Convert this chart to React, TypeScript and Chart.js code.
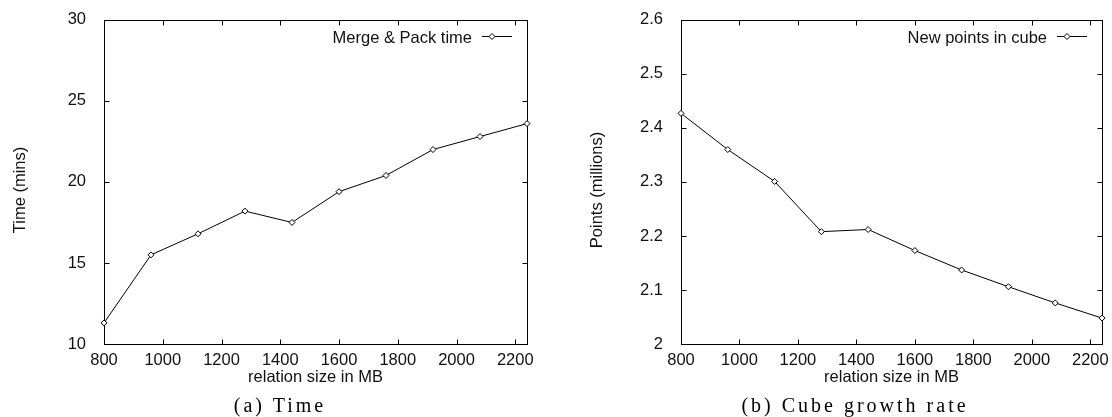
import React, { useEffect, useRef } from 'react';
import { Chart, registerables } from 'chart.js';

Chart.register(...registerables);

// ---- data ----
const relationSizes = [800, 960, 1120, 1280, 1440, 1600, 1760, 1920, 2080, 2240];
const mergePackTime = [11.3, 15.5, 16.8, 18.2, 17.5, 19.4, 20.4, 22.0, 22.8, 23.6];
const newPointsInCube = [2.427, 2.36, 2.301, 2.208, 2.212, 2.173, 2.137, 2.106, 2.076, 2.048];
const xTickValues = [800, 1000, 1200, 1400, 1600, 1800, 2000, 2200];
const timeTickValues = [10, 15, 20, 25, 30];
const pointsTickValues = [2, 2.1, 2.2, 2.3, 2.4, 2.5, 2.6];

const SANS = '"Liberation Sans", Arial, Helvetica, sans-serif';
const FONT_SIZE = 16.5;
const TEXT = '#111';

const framePlugin = {
  id: 'gnuplotFrame',
  beforeDatasetsDraw(chart: any, _args: any, opts: any) {
    const { ctx, chartArea: a, scales } = chart;
    const xs = scales.x;
    const ys = scales.y;
    const L = Math.round(a.left) + 0.5;
    const R = Math.round(a.right) + 0.5;
    const T = Math.round(a.top) + 0.5;
    const B = Math.round(a.bottom) + 0.5;
    const tl = 5;
    ctx.save();
    ctx.strokeStyle = '#000';
    ctx.lineWidth = 1;
    ctx.beginPath();
    xs.ticks.forEach((t: any) => {
      const px = Math.round(xs.getPixelForValue(t.value)) + 0.5;
      ctx.moveTo(px, B);
      ctx.lineTo(px, B - tl);
      ctx.moveTo(px, T);
      ctx.lineTo(px, T + tl);
    });
    ys.ticks.forEach((t: any) => {
      const py = Math.round(ys.getPixelForValue(t.value)) + 0.5;
      ctx.moveTo(L, py);
      ctx.lineTo(L + tl, py);
      ctx.moveTo(R, py);
      ctx.lineTo(R - tl, py);
    });
    ctx.stroke();
    ctx.strokeRect(L, T, R - L, B - T);

    // y axis title
    ctx.fillStyle = TEXT;
    ctx.font = `${FONT_SIZE}px ${SANS}`;
    ctx.save();
    ctx.translate(a.left - 83.5, 190);
    ctx.rotate(-Math.PI / 2);
    ctx.textAlign = 'center';
    ctx.textBaseline = 'middle';
    ctx.fillText(opts.yTitle, 0, 0);
    ctx.restore();

    // legend
    const lineStart = a.right - 45;
    const lineEnd = a.right - 15;
    const ly = 36.5;
    ctx.textAlign = 'right';
    ctx.textBaseline = 'alphabetic';
    ctx.fillText(opts.legend, a.right - 55, 42.5);
    ctx.beginPath();
    ctx.moveTo(lineStart, ly);
    ctx.lineTo(lineEnd, ly);
    ctx.stroke();
    const mx = lineStart + 10;
    const r = 3;
    ctx.beginPath();
    ctx.moveTo(mx, ly - r);
    ctx.lineTo(mx + r, ly);
    ctx.lineTo(mx, ly + r);
    ctx.lineTo(mx - r, ly);
    ctx.closePath();
    ctx.fillStyle = '#fff';
    ctx.fill();
    ctx.stroke();
    ctx.restore();
  },
};

type PanelProps = {
  left: number;
  values: number[];
  yTicks: number[];
  yMin: number;
  yMax: number;
  yTitle: string;
  legend: string;
  plotLeft: number;
  padRight: number;
  caption: string;
  captionCenter: number;
};

function Panel(p: PanelProps) {
  const ref = useRef<HTMLCanvasElement | null>(null);
  useEffect(() => {
    if (!ref.current) return;
    const font = { family: SANS, size: FONT_SIZE };
    const chart = new Chart(ref.current, {
      type: 'line',
      data: {
        datasets: [
          {
            label: p.legend,
            data: relationSizes.map((x, i) => ({ x, y: p.values[i] })),
            borderColor: '#000',
            borderWidth: 1,
            pointStyle: 'rectRot',
            pointRadius: 3,
            pointBackgroundColor: '#fff',
            pointBorderColor: '#000',
            pointBorderWidth: 1,
            tension: 0,
            clip: false as any,
          },
        ],
      },
      options: {
        responsive: false,
        animation: false,
        layout: { padding: { left: 0, right: p.padRight, top: 16, bottom: 30 } },
        plugins: {
          legend: { display: false },
          tooltip: { enabled: false },
          gnuplotFrame: { yTitle: p.yTitle, legend: p.legend },
        } as any,
        scales: {
          x: {
            type: 'linear',
            min: 800,
            max: 2240,
            grid: { display: false },
            border: { display: false },
            afterBuildTicks: (s: any) => {
              s.ticks = xTickValues.map((v) => ({ value: v }));
            },
            afterFit: (s: any) => {
              s.height = 43;
            },
            ticks: {
              padding: -1,
              color: TEXT,
              font,
              maxRotation: 0,
              autoSkip: false,
              callback: (v: any) => String(v),
            },
            title: {
              display: true,
              text: 'relation size in MB',
              color: TEXT,
              font,
              padding: 0,
            },
          },
          y: {
            type: 'linear',
            min: p.yMin,
            max: p.yMax,
            grid: { display: false },
            border: { display: false },
            afterBuildTicks: (s: any) => {
              s.ticks = p.yTicks.map((v) => ({ value: v }));
            },
            afterFit: (s: any) => {
              s.width = p.plotLeft;
            },
            ticks: {
              padding: 10,
              color: TEXT,
              font,
              autoSkip: false,
              callback: (v: any) => String(v),
            },
          },
        },
      },
      plugins: [framePlugin],
    } as any);
    return () => chart.destroy();
  }, []);

  return (
    <div style={{ position: 'absolute', left: p.left, top: 0, width: 556, height: 417 }}>
      <canvas ref={ref} width={556} height={417} style={{ display: 'block' }} />
      <div
        style={{
          position: 'absolute',
          left: p.captionCenter - 200,
          width: 400,
          top: 393,
          textAlign: 'center',
          fontFamily: '"Liberation Serif", "Times New Roman", serif',
          fontSize: 20,
          lineHeight: '24px',
          letterSpacing: '3px',
          color: '#000',
          whiteSpace: 'nowrap',
        }}
      >
        {p.caption}
      </div>
    </div>
  );
}

export default function App() {
  return (
    <div
      style={{
        position: 'fixed',
        left: 0,
        top: 0,
        width: 1112,
        height: 417,
        background: '#fff',
        overflow: 'hidden',
      }}
    >
      <Panel
        left={0}
        values={mergePackTime}
        yTicks={timeTickValues}
        yMin={10}
        yMax={30}
        yTitle="Time (mins)"
        legend="Merge & Pack time"
        plotLeft={104}
        padRight={29}
        caption="(a) Time"
        captionCenter={280}
      />
      <Panel
        left={556}
        values={newPointsInCube}
        yTicks={pointsTickValues}
        yMin={2}
        yMax={2.6}
        yTitle="Points (millions)"
        legend="New points in cube"
        plotLeft={125}
        padRight={10}
        caption="(b) Cube growth rate"
        captionCenter={299}
      />
    </div>
  );
}
